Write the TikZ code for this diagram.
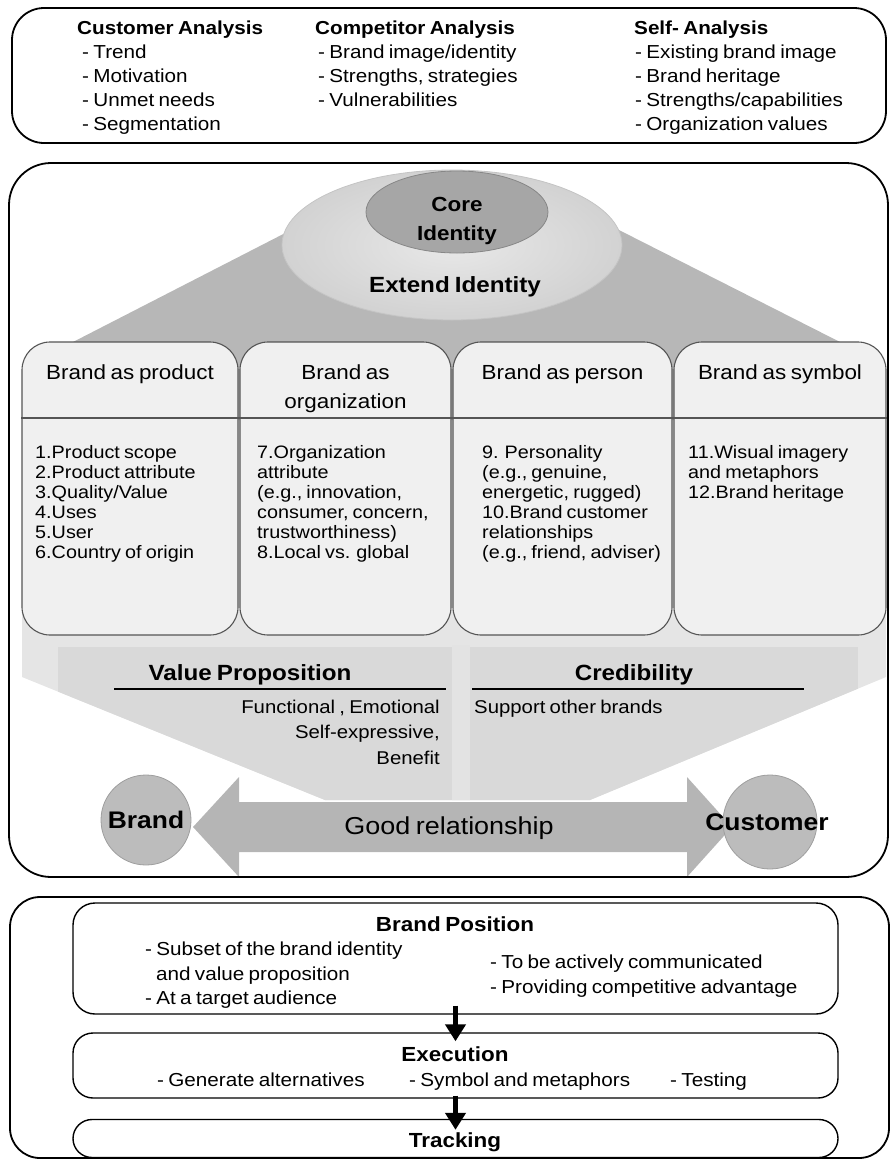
\documentclass[tikz,border=0pt]{standalone}
\usepackage{fontspec}
\setmainfont{Liberation Sans}[FakeStretch=1.1, WordSpace=0.75]
\usetikzlibrary{shapes.geometric, arrows.meta}
\definecolor{trapc}{HTML}{B7B7B7}
\definecolor{extin}{HTML}{E8E8E8}
\definecolor{extout}{HTML}{D2D2D2}
\definecolor{extb}{HTML}{C4C4C4}
\definecolor{corec}{HTML}{A6A6A6}
\definecolor{coreb}{HTML}{878787}
\definecolor{colfill}{HTML}{F0F0F0}
\definecolor{colline}{HTML}{555555}
\definecolor{funnelc}{HTML}{E5E5E5}
\definecolor{bandc}{HTML}{D9D9D9}
\definecolor{stripc}{HTML}{E3E3E3}
\definecolor{arrowc}{HTML}{B5B5B5}
\definecolor{circc}{HTML}{BCBCBC}
\definecolor{circb}{HTML}{9E9E9E}
\begin{document}
\begin{tikzpicture}[x=1pt, y=-1pt,
  txt/.style={inner sep=0pt, text=black},
  it/.style={txt, anchor=base west, font=\fontsize{18.8}{22}\selectfont},
  hd/.style={txt, anchor=base west, font=\fontsize{18.8}{22}\selectfont\bfseries},
  citem/.style={txt, anchor=base west, font=\fontsize{18}{21}\selectfont},
  chead/.style={txt, anchor=base, font=\fontsize{20.4}{23}\selectfont},
  bighd/.style={txt, anchor=base, font=\fontsize{22}{25}\selectfont\bfseries},
  midhd/.style={txt, anchor=base, font=\fontsize{20.4}{23}\selectfont\bfseries},
  outerbox/.style={draw=black, line width=1.8pt, rectangle, inner sep=0pt},
  procbox/.style={draw=black, line width=1.4pt, rectangle, inner sep=0pt, minimum width=765pt},
  colbox/.style={draw=colline, line width=1.1pt, fill=colfill, rectangle, rounded corners=28pt, inner sep=0pt, minimum height=293pt},
  flow/.style={line width=5pt, -{Triangle[width=20pt,length=17pt]}},
  uline/.style={line width=1.5pt, black},
  sidecirc/.style={circle, fill=circc, draw=circb, line width=0.8pt, inner sep=0pt, font=\fontsize{24}{27}\selectfont\bfseries}
]
\useasboundingbox (0,0) rectangle (891,1160);

% ---------- top box ----------
\node[outerbox, rounded corners=32pt, minimum width=874pt, minimum height=135pt] (top) at (449,75.5) {};
\node[hd] (ca) at (77,34) {Customer Analysis};
\foreach \t [count=\i] in {- Trend, - Motivation, - Unmet needs, - Segmentation}
  \node[it] (ca\i) at (82,{34+24*\i}) {\t};
\node[hd] (coa) at (315,34) {Competitor Analysis};
\foreach \t [count=\i] in {- Brand image/identity, {- Strengths, strategies}, - Vulnerabilities}
  \node[it] (coa\i) at (318,{34+24*\i}) {\t};
\node[hd] (sa) at (634,34) {Self- Analysis};
\foreach \t [count=\i] in {- Existing brand image, - Brand heritage, - Strengths/capabilities, - Organization values}
  \node[it] (sa\i) at (635,{34+24*\i}) {\t};

% ---------- middle box background shapes ----------
\fill[funnelc] (22,400) -- (22,677) -- (325,800) -- (590,800) -- (886,677) -- (886,400) -- cycle;
\begin{scope}
  \clip (22,400) -- (22,677) -- (325,800) -- (590,800) -- (886,677) -- (886,400) -- cycle;
  \fill[bandc] (58,647) rectangle (858,802);
  \fill[stripc] (452,645) rectangle (470,802);
\end{scope}
\fill[trapc] (73,342) -- (295,228) -- (615,228) -- (840,342) -- (840,420) -- (73,420) -- cycle;
\node[ellipse, draw=extb, line width=0.8pt, inner color=extin, outer color=extout,
      minimum width=340pt, minimum height=150pt, inner sep=0pt] (ext) at (452,245) {};
\node[ellipse, draw=coreb, line width=0.8pt, fill=corec,
      minimum width=182pt, minimum height=82pt, inner sep=0pt] (core) at (457,212) {};
\node[midhd] (coret1) at (457,211) {Core};
\node[midhd] (coret2) at (457,240) {Identity};
\node[bighd] (extt) at (455,292) {Extend Identity};

% ---------- columns ----------
\node[colbox, minimum width=216pt] (c1) at (130,488.5) {};
\node[colbox, minimum width=211pt] (c2) at (345.5,488.5) {};
\node[colbox, minimum width=219pt] (c3) at (562.5,488.5) {};
\node[colbox, minimum width=212pt] (c4) at (780,488.5) {};
\draw[colline, line width=1.1pt] (c1.west |- 0,418) -- (c4.east |- 0,418);

\node[chead] (h1) at (130,379) {Brand as product};
\node[chead] (h2a) at (345.5,379) {Brand as};
\node[chead] (h2b) at (345.5,408) {organization};
\node[chead] (h3) at (562.5,379) {Brand as person};
\node[chead] (h4) at (780,379) {Brand as symbol};

\foreach \t [count=\i] in {1.Product scope, 2.Product attribute, 3.Quality/Value, 4.Uses, 5.User, 6.Country of origin}
  \node[citem] (p\i) at (35,{438+20*\i}) {\t};
\foreach \t [count=\i] in {7.Organization, attribute, {(e.g., innovation,}, {consumer, concern,}, trustworthiness), 8.Local vs. global}
  \node[citem] (o\i) at (257,{438+20*\i}) {\t};
\foreach \t [count=\i] in {9. Personality, {(e.g., genuine,}, {energetic, rugged)}, 10.Brand customer, relationships, {(e.g., friend, adviser)}}
  \node[citem] (pe\i) at (482,{438+20*\i}) {\t};
\foreach \t [count=\i] in {11.Wisual imagery, and metaphors, 12.Brand heritage}
  \node[citem] (s\i) at (688,{438+20*\i}) {\t};

% ---------- value proposition / credibility ----------
\node[bighd] (vp) at (250,680) {Value Proposition};
\node[bighd] (cr) at (634,680) {Credibility};
\draw[uline] (114,689) -- (446,689);
\draw[uline] (472,689) -- (804,689);
\node[citem, anchor=base east, font=\fontsize{18.5}{21}\selectfont] (vp1) at (440,713) {Functional , Emotional};
\node[citem, anchor=base east, font=\fontsize{18.5}{21}\selectfont] (vp2) at (440,738) {Self-expressive,};
\node[citem, anchor=base east, font=\fontsize{18.5}{21}\selectfont] (vp3) at (440,764) {Benefit};
\node[citem, font=\fontsize{18.5}{21}\selectfont] (cr1) at (474,713) {Support other brands};

% ---------- relationship arrow ----------
\fill[arrowc] (193,827) -- (239,777) -- (239,802) -- (687,802) -- (687,777) -- (732,827)
  -- (687,877) -- (687,852) -- (239,852) -- (239,877) -- cycle;
\node[txt, anchor=base, font=\fontsize{24.5}{27}\selectfont] (gr) at (449,834) {Good relationship};
\node[sidecirc, minimum size=90pt] (brand) at (146,820) {Brand};
\node[sidecirc, minimum size=94pt] (cust) at (770,822) {};
\node[txt, font=\fontsize{24}{27}\selectfont\bfseries] (custt) at (767,822) {Customer};

\node[outerbox, rounded corners=42pt, minimum width=879pt, minimum height=714pt] (mid) at (448.5,520) {};

% ---------- bottom box ----------
\node[outerbox, rounded corners=30pt, minimum width=879pt, minimum height=261pt] (bot) at (449.5,1027.5) {};
\node[procbox, rounded corners=22pt, minimum height=111pt] (bp) at (455.5,958.5) {};
\node[procbox, rounded corners=20pt, minimum height=65pt] (ex) at (455.5,1065.5) {};
\node[procbox, rounded corners=19pt, minimum height=38pt] (tr) at (455.5,1138.5) {};

\node[midhd] (bpt) at (455,931) {Brand Position};
\node[it] (bp1) at (145,955) {- Subset of the brand identity};
\node[it] (bp2) at (156,980) {and value proposition};
\node[it] (bp3) at (145,1004) {- At a target audience};
\node[it] (bp4) at (490,968) {- To be actively communicated};
\node[it] (bp5) at (490,993) {- Providing competitive advantage};

\node[midhd] (ext1) at (455,1061) {Execution};
\node[it] (ex1) at (157,1086) {- Generate alternatives};
\node[it] (ex2) at (409,1086) {- Symbol and metaphors};
\node[it] (ex3) at (670,1086) {- Testing};

\node[midhd] (trt) at (455,1147) {Tracking};

\draw[flow] ([yshift=9pt]bp.south) -- ([yshift=-9pt]ex.north);
\draw[flow] ([yshift=3pt]ex.south) -- ([yshift=-11pt]tr.north);
\end{tikzpicture}
\end{document}
